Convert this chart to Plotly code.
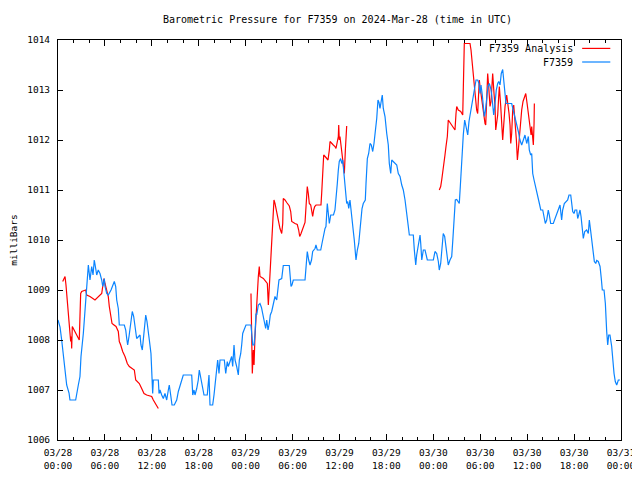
import pandas as pd
import plotly.graph_objects as go

TITLE = "Barometric Pressure for F7359 on 2024-Mar-28 (time in UTC)"
START = "2024-03-28 00:00"
END = "2024-03-31 00:00"
SERIES_NAMES = ["F7359 Analysis", "F7359"]
SERIES_COLORS = ["#ff0000", "#0a84ff"]

# Observed station pressure (hours after 2024-03-28 00:00 UTC, millibars)
obs_hours = [0.0, 0.26, 0.47, 0.68, 0.90, 1.11, 1.41, 1.53, 2.26, 2.39, 2.60, 2.81, 2.94, 3.24, 3.45, 3.67, 3.80, 3.88,
             4.09, 4.31, 4.48, 4.64, 4.82, 4.95, 5.15, 5.37, 5.59, 5.72, 5.92, 6.01, 6.23, 6.43, 6.78, 6.94, 7.20, 7.38,
             7.51, 7.71, 7.84, 8.48, 8.66, 8.79, 8.91, 9.08, 9.34, 9.50, 9.68, 9.85, 10.06, 10.49, 10.61, 10.78, 11.04,
             11.22, 11.38, 11.55, 11.68, 11.89, 11.98, 12.11, 12.19, 12.83, 12.92, 13.04, 13.26, 13.47, 13.68, 13.90,
             14.11, 14.23, 14.41, 14.58, 14.87, 15.18, 15.39, 15.60, 15.82, 16.02, 17.10, 17.23, 17.39, 17.52, 17.74,
             17.94, 18.07, 18.25, 18.45, 18.67, 19.09, 19.22, 19.31, 19.44, 19.78, 19.95, 20.17, 20.42, 20.59, 20.72,
             21.27, 21.45, 21.65, 21.78, 22.21, 22.34, 22.51, 22.64, 22.85, 23.06, 23.19, 23.37, 23.49, 23.62, 23.79,
             24.04, 24.68, 24.77, 24.90, 25.07, 25.19, 25.32, 25.41, 25.62, 25.83, 26.02, 26.18, 26.34, 26.56, 26.69,
             26.86, 27.02, 27.15, 27.33, 27.53, 27.75, 27.97, 28.10, 28.26, 28.61, 28.81, 29.58, 29.67, 29.80, 29.92,
             30.09, 31.59, 31.72, 31.88, 32.06, 32.23, 32.42, 32.57, 32.87, 32.99, 33.16, 33.60, 33.76, 33.93, 34.15,
             34.27, 34.44, 34.57, 34.70, 34.88, 35.23, 35.42, 35.55, 35.72, 35.85, 35.97, 36.15, 36.28, 36.41, 36.58,
             36.74, 36.92, 37.05, 37.18, 37.34, 37.47, 37.60, 37.77, 37.89, 37.98, 38.11, 38.28, 38.46, 38.62, 38.75,
             38.88, 39.04, 39.30, 39.39, 39.56, 39.73, 39.90, 40.07, 40.25, 40.41, 40.58, 40.76, 40.92, 41.05, 41.18,
             41.35, 41.47, 41.60, 41.82, 42.04, 42.24, 42.37, 42.55, 42.68, 42.88, 43.10, 43.32, 43.52, 43.74, 43.96,
             44.16, 44.38, 44.60, 44.80, 44.93, 45.44, 45.57, 45.75, 45.87, 46.08, 46.30, 46.39, 46.52, 46.72, 46.94,
             47.23, 48.00, 48.21, 48.43, 48.64, 48.76, 48.94, 49.11, 49.27, 49.45, 49.62, 49.79, 49.91, 50.13, 50.35,
             50.48, 50.64, 50.81, 50.99, 51.19, 51.32, 51.45, 51.63, 51.83, 52.01, 52.14, 52.27, 52.40, 52.56, 52.73,
             52.95, 53.11, 53.29, 53.46, 53.67, 53.84, 53.97, 54.10, 54.26, 54.39, 54.52, 54.65, 54.83, 54.99, 55.16,
             55.34, 55.47, 55.60, 55.72, 55.89, 56.05, 56.23, 56.36, 56.53, 56.69, 56.87, 57.00, 57.13, 57.29, 58.02,
             58.23, 58.45, 58.66, 58.87, 59.08, 59.30, 59.51, 59.72, 59.94, 60.15, 60.27, 60.45, 60.58, 60.71, 60.88,
             61.13, 61.30, 61.56, 61.74, 61.99, 62.15, 62.32, 62.50, 62.70, 62.83, 63.01, 63.34, 63.56, 63.77, 63.98,
             64.20, 64.41, 64.54, 64.75, 65.18, 65.35, 65.57, 65.70, 65.82, 65.99, 66.12, 66.34, 66.46, 66.59, 66.76,
             66.89, 67.05, 67.18, 67.36, 67.61, 67.82, 67.95, 68.13, 68.29, 68.46, 68.59, 68.77, 68.89, 69.10, 69.32,
             69.48, 69.61, 69.83, 70.00, 70.17, 70.30, 70.43, 70.59, 70.81, 70.94, 71.11, 71.27, 71.45, 71.66, 71.87]
obs_mbar = [1008.4, 1008.26, 1008.0, 1007.67, 1007.47, 1007.1, 1006.94, 1006.8, 1006.8, 1006.94, 1007.1, 1007.27,
            1007.67, 1008.13, 1008.6, 1009.0, 1009.27, 1009.5, 1009.2, 1009.47, 1009.3, 1009.6, 1009.43, 1009.3,
            1009.4, 1009.33, 1009.2, 1009.07, 1009.23, 1009.07, 1008.93, 1008.9, 1009.0, 1009.07, 1009.17, 1009.07,
            1008.8, 1008.63, 1008.3, 1008.3, 1008.2, 1008.03, 1007.9, 1008.07, 1008.37, 1008.57, 1008.47, 1008.3,
            1008.03, 1008.1, 1007.9, 1007.8, 1008.27, 1008.5, 1008.37, 1008.07, 1008.0, 1007.73, 1007.33, 1006.93,
            1007.2, 1007.2, 1006.93, 1007.0, 1006.9, 1006.83, 1006.93, 1006.8, 1007.0, 1007.1, 1006.9, 1006.7,
            1006.7, 1006.8, 1006.97, 1007.07, 1007.2, 1007.3, 1007.3, 1006.9, 1007.0, 1006.9, 1007.03, 1007.2,
            1007.4, 1007.27, 1007.07, 1006.9, 1006.9, 1007.1, 1007.3, 1006.7, 1006.7, 1006.9, 1007.27, 1007.6,
            1007.33, 1007.6, 1007.6, 1007.33, 1007.57, 1007.47, 1007.67, 1007.47, 1007.9, 1007.6, 1007.47, 1007.3,
            1007.6, 1007.73, 1007.9, 1008.13, 1008.2, 1008.3, 1008.3, 1008.1, 1007.9, 1007.9, 1008.1, 1008.53,
            1008.5, 1008.7, 1008.73, 1008.65, 1008.53, 1008.4, 1008.23, 1008.4, 1008.2, 1008.33, 1008.5, 1008.57,
            1008.73, 1008.87, 1008.8, 1009.0, 1009.2, 1009.23, 1009.49, 1009.49, 1009.27, 1009.07, 1009.1, 1009.2,
            1009.2, 1009.43, 1009.77, 1009.6, 1009.5, 1009.6, 1009.77, 1009.83, 1009.9, 1009.8, 1009.8, 1009.93,
            1010.1, 1010.23, 1010.27, 1010.73, 1010.53, 1010.33, 1010.5, 1010.5, 1010.6, 1010.93, 1011.13, 1011.4,
            1011.57, 1011.63, 1011.53, 1011.6, 1011.33, 1011.0, 1010.73, 1010.77, 1010.63, 1010.8, 1010.57, 1010.37,
            1010.17, 1010.0, 1009.87, 1009.6, 1009.8, 1009.93, 1010.2, 1010.47, 1010.63, 1010.73, 1010.8, 1011.13,
            1011.63, 1011.73, 1011.93, 1011.9, 1011.77, 1011.93, 1012.13, 1012.43, 1012.8, 1012.75, 1012.63, 1012.8,
            1012.9, 1012.63, 1012.47, 1012.13, 1011.9, 1011.53, 1011.33, 1011.6, 1011.57, 1011.53, 1011.5, 1011.33,
            1011.27, 1011.1, 1011.0, 1010.8, 1010.57, 1010.27, 1010.1, 1010.1, 1009.8, 1009.5, 1009.7, 1009.93,
            1010.1, 1009.93, 1009.6, 1009.8, 1009.8, 1009.6, 1009.6, 1009.77, 1009.73, 1009.57, 1009.4, 1009.53,
            1009.87, 1010.13, 1010.07, 1009.83, 1009.7, 1009.5, 1009.6, 1009.67, 1009.97, 1010.33, 1010.8, 1010.81,
            1010.77, 1010.73, 1011.07, 1011.67, 1012.1, 1012.4, 1012.27, 1012.2, 1012.1, 1012.37, 1012.53, 1012.73,
            1012.9, 1013.07, 1013.2, 1013.2, 1013.13, 1012.93, 1013.1, 1012.9, 1012.67, 1012.47, 1012.57, 1012.8,
            1013.07, 1013.13, 1013.03, 1012.9, 1012.67, 1012.5, 1012.73, 1013.0, 1013.13, 1013.17, 1013.1, 1013.33,
            1013.41, 1013.2, 1012.9, 1012.73, 1012.73, 1012.6, 1012.47, 1012.33, 1012.17, 1012.0, 1011.9, 1012.0,
            1012.1, 1011.93, 1012.07, 1011.8, 1011.7, 1011.73, 1011.33, 1011.2, 1011.0, 1010.9, 1010.73, 1010.6,
            1010.6, 1010.47, 1010.33, 1010.4, 1010.6, 1010.5, 1010.33, 1010.33, 1010.43, 1010.53, 1010.6, 1010.7,
            1010.4, 1010.6, 1010.73, 1010.8, 1010.9, 1010.9, 1010.73, 1010.57, 1010.53, 1010.6, 1010.6, 1010.43,
            1010.5, 1010.6, 1010.47, 1010.13, 1010.03, 1010.17, 1010.2, 1010.13, 1010.4, 1010.17, 1009.97, 1009.73,
            1009.57, 1009.53, 1009.59, 1009.57, 1009.47, 1009.23, 1009.0, 1009.0, 1008.73, 1008.17, 1007.9, 1008.1,
            1008.1, 1007.87, 1007.57, 1007.33, 1007.17, 1007.1, 1007.2, 1007.2]

# Analysis pressure, three separate runs
ana1_hours = [0.60, 0.77, 0.90, 1.02, 1.11, 1.24, 1.41, 1.53, 1.62, 1.70, 1.75, 1.83, 2.17, 2.39, 2.60, 2.72, 2.81,
              2.90, 3.03, 3.54, 3.67, 4.09, 4.73, 5.15, 5.37, 5.59, 5.72, 5.88, 6.01, 6.23, 6.43, 6.56, 6.74, 6.91,
              7.16, 7.42, 7.71, 7.84, 8.02, 8.27, 8.57, 8.86, 9.12, 9.43, 9.76, 9.94, 10.14, 10.40, 10.70, 11.00,
              11.34, 11.77, 11.98, 12.19, 12.41, 12.62, 12.83]
ana1_mbar = [1009.17, 1009.23, 1009.27, 1009.1, 1008.93, 1008.67, 1008.4, 1008.2, 1007.97, 1008.07, 1007.83,
             1008.27, 1008.17, 1008.1, 1008.03, 1008.0, 1008.47, 1008.93, 1008.97, 1009.0, 1008.9, 1008.87, 1008.8,
             1008.87, 1008.9, 1008.93, 1009.07, 1009.23, 1009.13, 1008.97, 1008.87, 1008.67, 1008.47, 1008.33,
             1008.3, 1008.27, 1008.17, 1007.97, 1007.9, 1007.77, 1007.67, 1007.53, 1007.47, 1007.43, 1007.4, 1007.2,
             1007.17, 1007.13, 1007.03, 1006.93, 1006.9, 1006.87, 1006.87, 1006.8, 1006.73, 1006.67, 1006.63]
ana2_hours = [24.68, 24.77, 24.85, 24.98, 25.07, 25.19, 25.32, 25.49, 25.62, 25.74, 25.83, 26.26, 26.56, 26.77,
              26.90, 26.98, 27.11, 27.20, 27.33, 27.46, 27.62, 27.75, 27.88, 28.05, 28.23, 28.39, 28.61, 28.74,
              28.81, 29.03, 29.25, 29.58, 29.76, 29.89, 30.31, 30.60, 30.78, 30.91, 31.08, 31.29, 31.59, 31.72,
              31.88, 32.01, 32.14, 32.32, 32.44, 32.57, 32.70, 32.83, 33.00, 33.63, 33.72, 33.85, 33.98, 34.27,
              34.53, 34.70, 34.79, 35.21, 35.42, 35.55, 35.72, 35.85, 35.90, 35.97, 36.06, 36.19, 36.32, 36.49,
              36.62, 36.75, 36.92]
ana2_mbar = [1008.93, 1008.1, 1007.33, 1007.8, 1007.5, 1008.07, 1008.5, 1009.0, 1009.27, 1009.47, 1009.27, 1009.23,
             1009.17, 1009.13, 1008.7, 1008.93, 1009.23, 1009.6, 1009.93, 1010.27, 1010.8, 1010.73, 1010.63, 1010.5,
             1010.33, 1010.23, 1010.13, 1010.33, 1010.83, 1010.8, 1010.75, 1010.68, 1010.57, 1010.37, 1010.33,
             1010.31, 1010.2, 1010.07, 1010.13, 1010.23, 1010.35, 1010.67, 1011.07, 1010.93, 1010.73, 1010.7,
             1010.57, 1010.47, 1010.6, 1010.67, 1010.7, 1010.7, 1010.93, 1011.47, 1011.7, 1011.65, 1011.6, 1011.8,
             1011.97, 1011.9, 1011.87, 1011.83, 1012.0, 1012.07, 1012.3, 1012.0, 1012.07, 1011.87, 1011.73, 1011.47,
             1011.33, 1011.8, 1012.28]
ana3_hours = [48.76, 48.94, 49.07, 49.19, 49.36, 49.49, 49.62, 49.79, 49.91, 50.04, 50.35, 50.64, 50.77, 50.90,
              50.99, 51.19, 51.50, 51.76, 51.83, 51.96, 52.69, 52.82, 52.98, 53.11, 53.24, 53.42, 53.54, 53.67,
              53.75, 53.88, 53.97, 54.10, 54.31, 54.48, 54.61, 54.70, 54.83, 54.95, 55.08, 55.25, 55.38, 55.50,
              55.59, 55.76, 55.89, 55.98, 56.10, 56.23, 56.36, 56.44, 56.62, 56.75, 56.87, 57.00, 57.17, 57.38,
              57.51, 57.68, 57.81, 57.90, 58.02, 58.15, 58.28, 58.36, 58.49, 58.62, 58.75, 58.87, 59.00, 59.18,
              59.30, 59.47, 59.64, 59.82, 59.99, 60.15, 60.37, 60.50, 60.58, 60.71, 60.79, 60.88, 60.92]
ana3_mbar = [1011.0, 1011.07, 1011.2, 1011.33, 1011.47, 1011.7, 1011.87, 1012.07, 1012.4, 1012.37, 1012.3, 1012.25,
             1012.2, 1012.53, 1012.67, 1012.6, 1012.57, 1012.5, 1013.2, 1013.93, 1013.93, 1013.8, 1013.53, 1013.33,
             1013.0, 1012.8, 1012.6, 1012.53, 1012.73, 1013.2, 1013.07, 1012.93, 1012.6, 1012.43, 1012.33, 1012.3,
             1013.0, 1013.33, 1013.07, 1012.67, 1012.77, 1013.07, 1013.33, 1012.93, 1012.67, 1012.2, 1012.33,
             1012.5, 1012.87, 1013.07, 1012.67, 1012.33, 1012.0, 1012.3, 1012.67, 1012.9, 1012.77, 1012.53, 1012.3,
             1011.93, 1012.13, 1012.6, 1012.7, 1012.47, 1012.27, 1012.0, 1011.6, 1011.8, 1012.07, 1012.4, 1012.6,
             1012.77, 1012.87, 1012.93, 1012.73, 1012.53, 1012.37, 1012.1, 1012.27, 1012.0, 1011.9, 1012.33, 1012.73]

base = pd.Timestamp(START)


def to_time(hours):
    return list(base + pd.to_timedelta(hours, unit="h"))


# join analysis runs with gaps
ana_x, ana_y = [], []
for hrs, vals in [(ana1_hours, ana1_mbar), (ana2_hours, ana2_mbar), (ana3_hours, ana3_mbar)]:
    if ana_x:
        ana_x.append(None)
        ana_y.append(None)
    ana_x += to_time(hrs)
    ana_y += vals

FONT = "DejaVu Sans Mono"

fig = go.Figure()
fig.add_trace(go.Scatter(x=ana_x, y=ana_y, mode="lines", name=SERIES_NAMES[0],
                         line=dict(color=SERIES_COLORS[0], width=1.2), connectgaps=False, showlegend=False))
fig.add_trace(go.Scatter(x=to_time(obs_hours), y=obs_mbar, mode="lines", name=SERIES_NAMES[1],
                         line=dict(color=SERIES_COLORS[1], width=1.2), showlegend=False))

# gnuplot-style key: right-aligned text followed by a line sample
key_rows = [0.979, 0.945]
for name, color, ky in zip(SERIES_NAMES, SERIES_COLORS, key_rows):
    fig.add_annotation(xref="paper", yref="paper", x=0.918, y=ky, text=name, showarrow=False,
                       xanchor="right", yanchor="middle", font=dict(family=FONT, size=10, color="black"))
    fig.add_shape(type="line", xref="paper", yref="paper", x0=0.931, x1=0.981, y0=ky, y1=ky,
                  line=dict(color=color, width=1.2))

# the page body adds an 8px offset, so the figure is sized to the remaining window
fig.update_layout(
    width=632, height=472,
    margin=dict(l=50, r=19, t=32, b=40),
    paper_bgcolor="white", plot_bgcolor="white",
    font=dict(family=FONT, size=10, color="black"),
    title=dict(text=TITLE, x=0.5214, xanchor="center", y=0.9746, yanchor="middle",
               font=dict(family=FONT, size=10, color="black")),
    showlegend=False,
)
fig.update_xaxes(
    type="date", range=[START, END], automargin=False,
    tick0=START, dtick=6 * 3600 * 1000, tickformat="%m/%d<br>%H:%M",
    ticks="inside", ticklen=6, tickcolor="black", tickwidth=1, ticklabelstandoff=4,
    minor=dict(ticks="inside", ticklen=3, dtick=2 * 3600 * 1000, tick0=START, tickcolor="black"),
    showline=True, linecolor="black", linewidth=1, mirror="ticks",
    showgrid=False, zeroline=False, tickfont=dict(family=FONT, size=9.5),
)
fig.update_yaxes(
    range=[1006, 1014], dtick=1, tick0=1006, automargin=False,
    ticks="inside", ticklen=5, tickcolor="black", tickwidth=1, ticklabelstandoff=5,
    showline=True, linecolor="black", linewidth=1, mirror="ticks",
    showgrid=False, zeroline=False, tickfont=dict(family=FONT, size=9.5),
    title=dict(text="milliBars", font=dict(family=FONT, size=9.5), standoff=10),
)

fig.write_html("out.html")
